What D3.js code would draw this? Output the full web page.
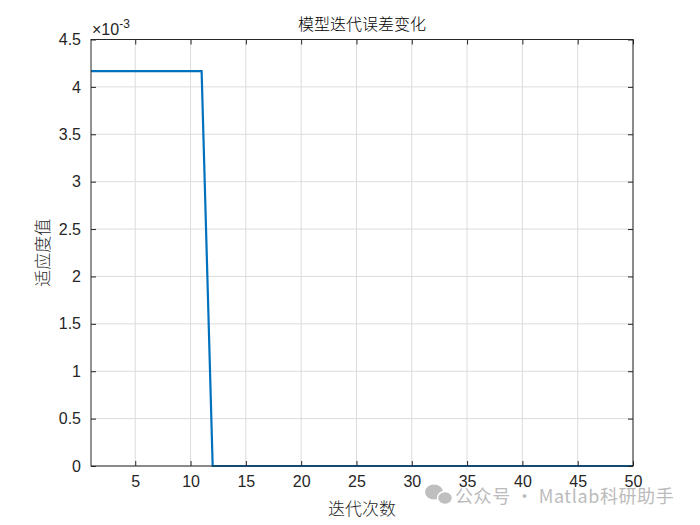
<!DOCTYPE html>
<html><head><meta charset="utf-8">
<script src="https://cdn.jsdelivr.net/npm/d3@7"></script>
<style>body{margin:0;background:#fff}svg{display:block}</style>
</head><body><div id="chart"></div>
<script>
const iterations = d3.range(1, 51);
const errorValues = [0.004167,0.004167,0.004167,0.004167,0.004167,0.004167,0.004167,0.004167,0.004167,0.004167,0.004167,
 0,0,0,0,0,0,0,0,0,0,0,0,0,0,0,0,0,0,0,0,0,0,0,0,0,0,0,0,0,0,0,0,0,0,0,0,0,0,0];
const xTicks = [5,10,15,20,25,30,35,40,45,50];
const yTicks = [0,0.5,1,1.5,2,2.5,3,3.5,4,4.5];
const titleText = "模型迭代误差变化";
const xLabel = "迭代次数";
const yLabel = "适应度值";
const watermark = "公众号 · Matlab科研助手";

const W = 700, H = 525;
const m = {l:91, r:67, t:39.5, b:59};
const svg = d3.select("#chart").append("svg").attr("width", W).attr("height", H);
const x = d3.scaleLinear().domain([1,50]).range([m.l, W - m.r]);
const y = d3.scaleLinear().domain([0,4.5]).range([H - m.b, m.t]);
const tickFont = "Liberation Sans, Arial, sans-serif";
const cjk = "Noto Sans CJK SC, sans-serif";

// grid
svg.append("g").selectAll("line").data(xTicks).join("line")
  .attr("x1", d=>x(d)).attr("x2", d=>x(d)).attr("y1", m.t).attr("y2", H-m.b)
  .attr("stroke", "#dcdcdc").attr("stroke-width", 1);
svg.append("g").selectAll("line").data(yTicks).join("line")
  .attr("x1", m.l).attr("x2", W-m.r).attr("y1", d=>y(d)).attr("y2", d=>y(d))
  .attr("stroke", "#dcdcdc").attr("stroke-width", 1);

// line
const line = d3.line().x((d,i)=>x(iterations[i])).y(d=>y(d*1000));
svg.append("path").datum(errorValues).attr("d", line)
  .attr("fill","none").attr("stroke","#0072BD").attr("stroke-width",2.2);

// axes
const ax = svg.append("g");
const xb = d3.axisBottom(x).tickValues(xTicks).tickSize(-5).tickPadding(10).tickFormat(d3.format("d"));
const xt = d3.axisTop(x).tickValues(xTicks).tickSize(-5).tickFormat("");
const yl = d3.axisLeft(y).tickValues(yTicks).tickSize(-5).tickPadding(10).tickFormat(d=>d3.format("")(d));
const yr = d3.axisRight(y).tickValues(yTicks).tickSize(-5).tickFormat("");
function style(g){
  g.select(".domain").remove();
  g.selectAll("line").attr("stroke","#262626");
  g.selectAll("text").attr("fill","#262626").style("font-family", tickFont).style("font-size","16px");
}
ax.append("g").attr("transform",`translate(0,${H-m.b})`).call(xb).call(style);
ax.append("g").attr("transform",`translate(0,${m.t})`).call(xt).call(style);
ax.append("g").attr("transform",`translate(${m.l},0)`).call(yl).call(style);
ax.append("g").attr("transform",`translate(${W-m.r},0)`).call(yr).call(style);
svg.append("rect").attr("x",m.l).attr("y",m.t).attr("width",W-m.r-m.l).attr("height",H-m.b-m.t)
  .attr("fill","none").attr("stroke","#262626").attr("stroke-width",1);

// exponent
const ex = svg.append("text").attr("x", 92).attr("y", 35).attr("fill","#262626")
  .style("font-family", tickFont).style("font-size","16px");
ex.append("tspan").text("×10");
ex.append("tspan").attr("dy",-7).style("font-size","12px").text("-3");

// title & labels
svg.append("text").attr("x", (m.l + W - m.r)/2).attr("y", 30).attr("text-anchor","middle")
  .attr("fill","#000").style("font-family",cjk).style("font-size","16px").style("font-weight","300").text(titleText);
svg.append("text").attr("x", (m.l + W - m.r)/2).attr("y", 515).attr("text-anchor","middle")
  .attr("fill","#262626").style("font-family",cjk).style("font-size","17px").style("font-weight","300").text(xLabel);
svg.append("text").attr("transform",`translate(49,${(m.t+H-m.b)/2}) rotate(-90)`).attr("text-anchor","middle")
  .attr("fill","#262626").style("font-family",cjk).style("font-size","17px").style("font-weight","300").text(yLabel);

// watermark
const wm = svg.append("g").attr("opacity",0.85);
wm.append("ellipse").attr("cx",434).attr("cy",492).attr("rx",9).attr("ry",7.5).attr("fill","#b4b4b4");
wm.append("ellipse").attr("cx",445).attr("cy",498).attr("rx",7.5).attr("ry",6.5).attr("fill","#b4b4b4").attr("stroke","#fff").attr("stroke-width",1.5);
wm.append("text").attr("x",455).attr("y",503).attr("fill","#b0b0b0")
  .style("font-family",cjk).style("font-size","18px").style("letter-spacing","0.6px").text(watermark);
</script></body></html>
